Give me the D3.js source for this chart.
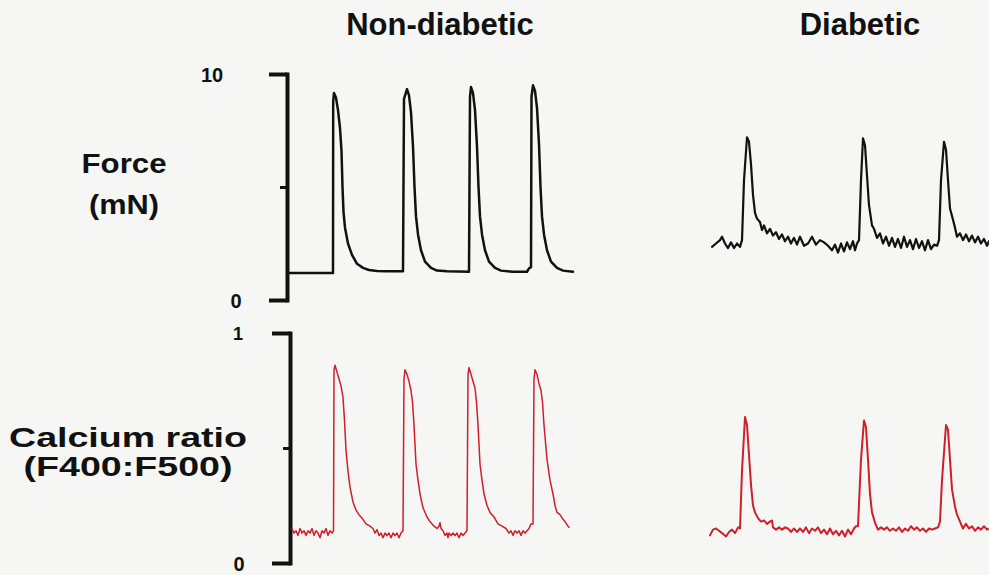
<!DOCTYPE html>
<html>
<head>
<meta charset="utf-8">
<script src="https://cdn.jsdelivr.net/npm/d3@7"></script>
<style>
  html, body { margin: 0; padding: 0; background: #f6f7f4; }
  svg { display: block; }
  text { font-family: "Liberation Sans", Arial, sans-serif; font-weight: bold; fill: #111; }
</style>
</head>
<body>
<svg id="chart" width="989" height="575"></svg>
<script>
// Column titles and row labels
const groups = ["Non-diabetic", "Diabetic"];
const rowLabels = [["Force", "(mN)"], ["Calcium ratio", "(F400:F500)"]];

// Axis ranges and tick labels
const forceTicks = [0, 5, 10];
const forceTickLabels = ["0", "10"];
const calciumTicks = [0, 0.5, 1];
const calciumTickLabels = ["0", "1"];

// Traces: [time (s), value]
const forceNonDiabetic = [
  [0.00,1.20],[0.46,1.20],[0.462,8.8],[0.47,9.16],[0.49,8.95],[0.51,8.4],[0.53,7.6],[0.545,6.6],
  [0.555,5.0],[0.565,3.9],[0.58,3.2],[0.61,2.5],[0.65,2.0],[0.70,1.6],[0.76,1.42],[0.82,1.33],
  [0.90,1.28],[1.00,1.27],[1.16,1.27],
  [1.17,8.9],[1.20,9.33],[1.22,9.05],[1.24,8.3],[1.26,6.8],[1.275,5.0],[1.29,3.7],[1.31,2.9],
  [1.34,2.2],[1.38,1.7],[1.44,1.42],[1.50,1.30],[1.60,1.27],[1.82,1.25],
  [1.83,9.0],[1.84,9.42],[1.86,9.15],[1.88,8.4],[1.90,6.8],[1.915,5.0],[1.93,3.7],[1.95,2.9],
  [1.98,2.2],[2.02,1.7],[2.08,1.42],[2.14,1.30],[2.25,1.25],[2.40,1.25],[2.42,1.40],[2.44,1.45],
  [2.445,9.0],[2.46,9.5],[2.48,9.25],[2.50,8.5],[2.52,6.9],[2.535,5.0],[2.55,3.7],[2.57,2.9],
  [2.60,2.2],[2.64,1.7],[2.70,1.42],[2.76,1.30],[2.86,1.25]
];

const calciumNonDiabetic = [
  [0.05,0.15],[0.07,0.13],[0.09,0.14],[0.11,0.12],[0.13,0.15],[0.15,0.13],[0.17,0.14],[0.19,0.12],
  [0.21,0.14],[0.23,0.13],[0.25,0.15],[0.27,0.12],[0.29,0.14],[0.31,0.13],[0.33,0.11],[0.35,0.14],
  [0.37,0.13],[0.39,0.15],[0.41,0.12],[0.43,0.14],[0.45,0.13],[0.465,0.14],
  [0.47,0.84],[0.48,0.86],[0.50,0.83],[0.52,0.80],[0.54,0.77],[0.56,0.72],[0.575,0.62],[0.59,0.49],
  [0.61,0.40],[0.63,0.33],[0.66,0.265],[0.69,0.23],[0.72,0.21],[0.76,0.19],[0.79,0.17],[0.83,0.16],
  [0.86,0.15],[0.88,0.13],[0.90,0.145],[0.92,0.12],[0.94,0.13],[0.96,0.11],[0.98,0.13],[1.00,0.12],
  [1.02,0.13],[1.04,0.11],[1.06,0.13],[1.08,0.12],[1.10,0.13],[1.12,0.11],[1.14,0.13],[1.16,0.14],
  [1.17,0.80],[1.18,0.84],[1.20,0.82],[1.22,0.79],[1.24,0.75],[1.255,0.70],[1.27,0.60],[1.29,0.43],
  [1.31,0.36],[1.33,0.30],[1.36,0.24],[1.40,0.20],[1.43,0.18],[1.47,0.16],[1.50,0.15],[1.52,0.16],
  [1.53,0.175],[1.54,0.15],[1.56,0.14],[1.58,0.12],[1.60,0.13],[1.61,0.11],[1.62,0.13],[1.64,0.12],
  [1.66,0.13],[1.68,0.12],[1.70,0.13],[1.72,0.11],[1.74,0.13],[1.76,0.12],[1.78,0.13],[1.80,0.14],
  [1.81,0.82],[1.82,0.85],[1.84,0.82],[1.86,0.79],[1.88,0.76],[1.895,0.70],[1.91,0.60],[1.93,0.43],
  [1.95,0.36],[1.97,0.30],[2.00,0.25],[2.03,0.22],[2.07,0.20],[2.11,0.17],[2.15,0.16],[2.19,0.15],
  [2.22,0.13],[2.24,0.14],[2.26,0.12],[2.28,0.14],[2.30,0.13],[2.32,0.14],[2.34,0.12],[2.36,0.14],
  [2.38,0.13],[2.40,0.14],[2.42,0.15],[2.44,0.17],[2.46,0.17],
  [2.47,0.80],[2.48,0.84],[2.50,0.82],[2.52,0.78],[2.54,0.75],[2.555,0.70],[2.57,0.60],[2.60,0.45],
  [2.63,0.36],[2.66,0.30],[2.68,0.25],[2.70,0.22],[2.73,0.21],[2.76,0.19],[2.78,0.18],[2.81,0.16],
  [2.82,0.155]
];

const forceDiabetic = [
  [0.02,2.35],[0.06,2.5],[0.10,2.65],[0.12,2.8],[0.15,2.5],[0.18,2.3],[0.21,2.55],[0.24,2.3],
  [0.27,2.5],[0.30,2.35],[0.32,2.65],[0.34,5.3],[0.37,7.2],[0.39,7.0],[0.41,6.0],[0.43,4.65],
  [0.45,3.85],[0.47,3.6],[0.50,3.45],[0.52,3.1],[0.54,3.3],[0.57,2.95],[0.60,3.15],[0.63,2.85],
  [0.66,3.0],[0.69,2.7],[0.72,2.9],[0.75,2.6],[0.78,2.8],[0.81,2.5],[0.84,2.75],[0.87,2.45],
  [0.90,2.8],[0.94,2.4],[0.98,2.5],[1.02,2.8],[1.06,2.45],[1.10,2.65],[1.14,2.55],[1.18,2.4],
  [1.22,2.2],[1.25,2.45],[1.28,2.1],[1.31,2.5],[1.34,2.15],[1.37,2.55],[1.40,2.25],[1.43,2.6],
  [1.45,2.2],[1.47,2.5],[1.49,2.65],[1.51,5.3],[1.53,7.15],[1.55,6.85],[1.57,5.5],[1.59,4.2],
  [1.62,3.3],[1.64,3.15],[1.67,2.75],[1.70,2.95],[1.73,2.5],[1.76,2.8],[1.79,2.4],[1.82,2.75],
  [1.85,2.35],[1.88,2.7],[1.91,2.3],[1.94,2.8],[1.97,2.35],[2.00,2.65],[2.03,2.25],[2.06,2.7],
  [2.09,2.3],[2.12,2.6],[2.15,2.2],[2.18,2.65],[2.21,2.25],[2.24,2.45],[2.27,2.4],[2.29,2.65],
  [2.31,5.3],[2.34,7.0],[2.36,6.65],[2.38,5.3],[2.40,4.05],[2.43,3.55],[2.45,3.2],[2.47,2.8],
  [2.50,2.95],[2.53,2.65],[2.56,2.9],[2.59,2.6],[2.62,2.85],[2.65,2.55],[2.68,2.8],[2.71,2.5],
  [2.74,2.7],[2.77,2.4],[2.79,2.6]
];

const calciumDiabetic = [
  [0.00,0.12],[0.03,0.145],[0.06,0.15],[0.09,0.14],[0.12,0.13],[0.16,0.115],[0.19,0.135],[0.22,0.145],
  [0.25,0.13],[0.28,0.155],[0.30,0.15],[0.32,0.40],[0.35,0.635],[0.37,0.60],[0.39,0.47],[0.41,0.34],
  [0.43,0.25],[0.45,0.22],[0.48,0.195],[0.51,0.18],[0.54,0.185],[0.57,0.17],[0.60,0.18],[0.62,0.185],
  [0.63,0.155],[0.66,0.145],[0.69,0.155],[0.72,0.145],[0.75,0.155],[0.78,0.15],[0.81,0.135],[0.84,0.15],
  [0.87,0.135],[0.90,0.15],[0.93,0.135],[0.96,0.155],[0.99,0.13],[1.02,0.15],[1.05,0.14],[1.08,0.155],
  [1.11,0.13],[1.14,0.145],[1.17,0.125],[1.20,0.15],[1.23,0.125],[1.26,0.14],[1.29,0.12],[1.32,0.14],
  [1.35,0.115],[1.38,0.145],[1.41,0.125],[1.44,0.15],[1.46,0.16],[1.48,0.16],[1.51,0.45],[1.54,0.62],
  [1.56,0.59],[1.58,0.45],[1.60,0.30],[1.62,0.22],[1.65,0.175],[1.68,0.145],[1.71,0.155],[1.74,0.145],
  [1.77,0.155],[1.80,0.14],[1.83,0.15],[1.86,0.14],[1.89,0.155],[1.92,0.135],[1.95,0.15],[1.98,0.14],
  [2.01,0.16],[2.04,0.145],[2.07,0.155],[2.10,0.14],[2.13,0.15],[2.16,0.135],[2.19,0.15],[2.22,0.145],
  [2.25,0.15],[2.28,0.155],[2.30,0.18],[2.32,0.36],[2.36,0.60],[2.38,0.58],[2.40,0.45],[2.42,0.32],
  [2.45,0.245],[2.47,0.21],[2.50,0.18],[2.53,0.15],[2.56,0.17],[2.59,0.15],[2.62,0.16],[2.65,0.14],
  [2.68,0.155],[2.71,0.145],[2.74,0.16],[2.77,0.145],[2.79,0.15]
];

const svg = d3.select("#chart");
const black = "#111111";
const red = "#cf1f2b";

// Scales
const xNon = d3.scaleLinear().domain([0, 2.86]).range([287, 573]);
const xDia = d3.scaleLinear().domain([0, 2.79]).range([710, 989]);
const yForce = d3.scaleLinear().domain([0, 10]).range([300, 74]);
const yCalcium = d3.scaleLinear().domain([0, 1]).range([563, 333]);

// Column titles
svg.append("text").attr("x", 440).attr("y", 35).attr("text-anchor", "middle")
  .attr("font-size", 31).text(groups[0]);
svg.append("text").attr("x", 860).attr("y", 35).attr("text-anchor", "middle")
  .attr("font-size", 31).text(groups[1]);

// Row labels
const rowLabelSpecs = [
  { lines: rowLabels[0], x: 124, ys: [173, 214], lens: [85, 70] },
  { lines: rowLabels[1], x: 128, ys: [447, 476], lens: [238, 209] }
];
rowLabelSpecs.forEach(spec => {
  spec.lines.forEach((line, i) => {
    svg.append("text")
      .attr("x", spec.x).attr("y", spec.ys[i])
      .attr("text-anchor", "middle")
      .attr("font-size", 27)
      .attr("textLength", spec.lens[i])
      .attr("lengthAdjust", "spacingAndGlyphs")
      .text(line);
  });
});

// Bracket-style scale bars
function drawAxis(scale, x, ticks, capLen, midLen) {
  const g = svg.append("g").attr("transform", `translate(${x},0)`);
  g.call(d3.axisLeft(scale).tickValues([ticks[0], ticks[2]]).tickSize(capLen).tickSizeOuter(0).tickFormat(""));
  g.call(gg => gg.selectAll(".tick line").attr("stroke", black).attr("stroke-width", 4));
  const m = svg.append("g").attr("transform", `translate(${x},0)`);
  m.call(d3.axisLeft(scale).tickValues([ticks[1]]).tickSize(midLen).tickSizeOuter(0).tickFormat(""));
  m.select(".domain").remove();
  m.selectAll(".tick line").attr("stroke", black).attr("stroke-width", 3);
  g.select(".domain").attr("stroke", black).attr("stroke-width", 4).attr("stroke-linecap", "square");
}
drawAxis(yForce, 287, forceTicks, 18, 7);
drawAxis(yCalcium, 290, calciumTicks, 18, 7);

// Tick value labels
const tickLabel = (x, y, size, txt) =>
  svg.append("text").attr("x", x).attr("y", y).attr("text-anchor", "middle")
    .attr("font-size", size).text(txt);
tickLabel(212, yForce(10) + 8, 20, forceTickLabels[1]);
tickLabel(236, yForce(0) + 8, 20, forceTickLabels[0]);
tickLabel(238, yCalcium(1) + 7, 18, calciumTickLabels[1]);
tickLabel(239, yCalcium(0) + 8, 20, calciumTickLabels[0]);

// Traces
function trace(data, xs, ys, color, width) {
  const line = d3.line().x(d => xs(d[0])).y(d => ys(d[1]));
  svg.append("path").datum(data)
    .attr("d", line)
    .attr("fill", "none")
    .attr("stroke", color)
    .attr("stroke-width", width)
    .attr("stroke-linejoin", "round")
    .attr("stroke-linecap", "round");
}
trace(forceNonDiabetic, xNon, yForce, black, 2.5);
trace(calciumNonDiabetic, xNon, yCalcium, red, 1.5);
trace(forceDiabetic, xDia, yForce, black, 2.2);
trace(calciumDiabetic, xDia, yCalcium, red, 2.0);
</script>
</body>
</html>
